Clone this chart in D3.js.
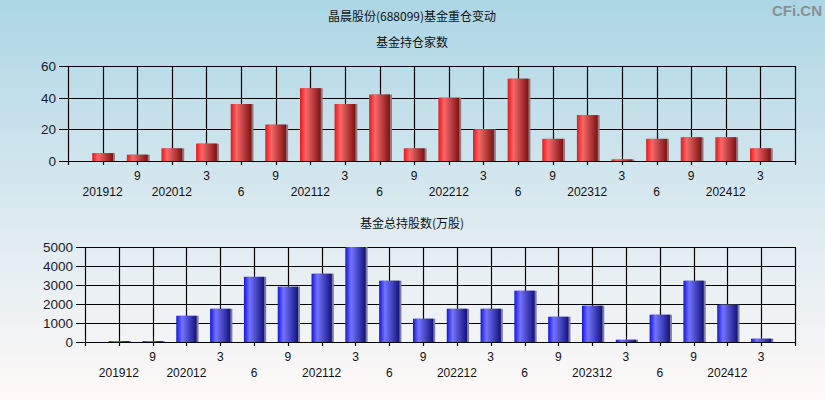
<!DOCTYPE html>
<html><head><meta charset="utf-8">
<script src="https://cdn.jsdelivr.net/npm/d3@7/dist/d3.min.js"></script>
<style>body{margin:0;padding:0;overflow:hidden}svg{display:block}</style>
</head><body>
<svg id="c" width="825" height="400"></svg>
<script>
const periods = ["201912","202009","202012","202103","202106","202109","202112","202203","202206","202209","202212","202303","202306","202309","202312","202403","202406","202409","202412","202503"];
const fundCounts = [5,4,8,11,36,23,46,36,42,8,40,20,52,14,29,1,14,15,15,8];
const fundShares = [50,50,1380,1750,3430,2910,3595,5000,3226,1226,1750,1750,2700,1330,1910,120,1437,3226,1963,175];
const countTicks = [0,20,40,60];
const shareTicks = [0,1000,2000,3000,4000,5000];

const svg = d3.select("#c");
const defs = svg.append("defs");
const bg = defs.append("linearGradient").attr("id","bg").attr("x1",0).attr("y1",0).attr("x2",0).attr("y2",1);
bg.append("stop").attr("offset","0%").attr("stop-color","#acd6e5");
bg.append("stop").attr("offset","55%").attr("stop-color","#dceaf0");
bg.append("stop").attr("offset","100%").attr("stop-color","#fff9f8");
function barGrad(id, c0, c1, c2){
  const g = defs.append("linearGradient").attr("id",id).attr("x1",0).attr("y1",0).attr("x2",1).attr("y2",0);
  g.append("stop").attr("offset","0%").attr("stop-color",c0);
  g.append("stop").attr("offset","28%").attr("stop-color",c1);
  g.append("stop").attr("offset","100%").attr("stop-color",c2);
}
barGrad("red","#ff0d0d","#f56a6a","#7c1212");
barGrad("blue","#1010ff","#7474ff","#12127a");

svg.append("rect").attr("width",825).attr("height",400).attr("fill","url(#bg)");

const cjk = "'Noto Sans CJK SC','Noto Sans',sans-serif";
const num = "'Liberation Sans',Arial,sans-serif";

svg.append("text").attr("x",412).attr("y",21).attr("text-anchor","middle")
  .attr("font-family",cjk).attr("font-size",12).attr("fill","#111").text("晶晨股份(688099)基金重仓变动");
svg.append("text").attr("x",822).attr("y",16).attr("text-anchor","end")
  .attr("font-family",num).attr("font-weight","bold").attr("font-size",15).attr("fill","#8a8f94").text("CFi.CN");

function panel(cfg){
  const {left,right,top,bottom,values,ticks,max,grad,title,titleY} = cfg;
  svg.append("text").attr("x",412).attr("y",titleY).attr("text-anchor","middle")
    .attr("font-family",cjk).attr("font-size",12).attr("fill","#111").text(title);
  const x = d3.scaleLinear().domain([0,periods.length+1]).range([left,right]);
  const y = d3.scaleLinear().domain([0,max]).range([bottom,top]);
  const g = svg.append("g");
  g.selectAll("line.h").data(ticks).join("line")
    .attr("x1",left-9).attr("x2",right)
    .attr("y1",d=>Math.round(y(d))+0.5).attr("y2",d=>Math.round(y(d))+0.5)
    .attr("stroke","#000").attr("stroke-width",1.2);
  const vt = d3.range(0,periods.length+2);
  g.selectAll("line.v").data(vt).join("line")
    .attr("x1",d=>Math.round(x(d))+0.5).attr("x2",d=>Math.round(x(d))+0.5)
    .attr("y1",top).attr("y2",bottom+4)
    .attr("stroke","#000").attr("stroke-width",1.2);
  g.selectAll("text.y").data(ticks).join("text")
    .attr("x",left-12).attr("y",d=>y(d)+5).attr("text-anchor","end")
    .attr("font-family",num).attr("font-size",13.5).attr("fill","#1a1a2a").text(d=>d);
  const bw = (x(1)-x(0))*0.6;
  g.selectAll("rect.s").data(values).join("rect")
    .attr("x",(d,i)=>x(i+1)-bw/2+2).attr("width",bw)
    .attr("y",d=>y(d)).attr("height",d=>bottom-y(d)).attr("fill","#7d8289");
  g.selectAll("rect.b").data(values).join("rect")
    .attr("x",(d,i)=>x(i+1)-bw/2).attr("width",bw)
    .attr("y",d=>y(d)).attr("height",d=>bottom-y(d)).attr("fill",`url(#${grad})`);
  g.append("line").attr("x1",left-9).attr("x2",right).attr("y1",Math.round(bottom)+0.5).attr("y2",Math.round(bottom)+0.5)
    .attr("stroke","#000").attr("stroke-width",1.2);
  g.selectAll("text.x").data(periods).join("text")
    .attr("x",(d,i)=>x(i+1)).attr("y",(d,i)=> i%2===0 ? bottom+35 : bottom+19)
    .attr("text-anchor","middle").attr("font-family",num).attr("font-size",12).attr("fill","#111")
    .text(d=> d.slice(4)==="12" ? d : String(+d.slice(4)));
}
panel({left:68,right:795,top:66,bottom:161,values:fundCounts,ticks:countTicks,max:60,grad:"red",title:"基金持仓家数",titleY:47});
panel({left:85,right:795,top:247,bottom:342,values:fundShares,ticks:shareTicks,max:5000,grad:"blue",title:"基金总持股数(万股)",titleY:228});
</script>
</body></html>
